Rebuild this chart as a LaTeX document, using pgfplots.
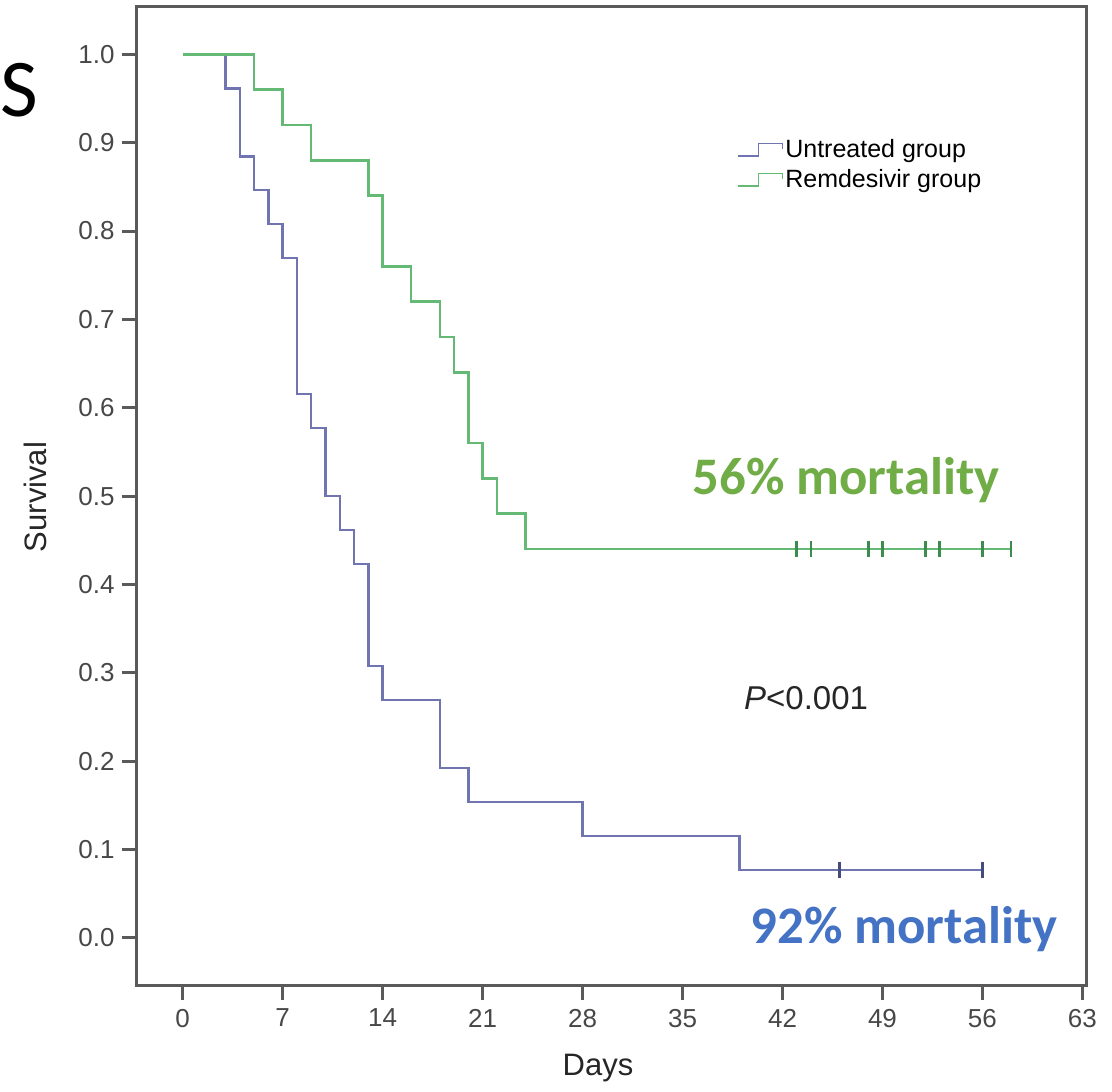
\documentclass[border=0pt]{standalone}
\usepackage{fontspec}
\setmainfont{Liberation Sans}
\newfontfamily\calibri{Carlito}
\usepackage{pgfplots}
\pgfplotsset{compat=1.18}
\definecolor{untr}{RGB}{112,117,178}
\definecolor{remd}{RGB}{100,186,116}
\definecolor{remdmark}{RGB}{60,140,80}
\definecolor{untrmark}{RGB}{70,75,125}
\definecolor{framec}{RGB}{90,90,90}
\definecolor{lblue}{RGB}{68,114,196}
\definecolor{lgreen}{RGB}{112,173,71}
\begin{document}
\begin{tikzpicture}
\path[use as bounding box] (0pt,0pt) rectangle (556pt,-545.5pt);
\node[anchor=base west, inner sep=0pt, font=\normalfont\calibri\upshape\fontsize{41}{48}\selectfont] at (0pt,-58.5pt) {S};
\begin{axis}[
  at={(68.35pt,-492.5pt)}, anchor=south west,
  scale only axis, width=475pt, height=489pt,
  xmin=-3.22, xmax=63.3, ymin=-0.0535, ymax=1.0536,
  xtick={0,7,...,63}, ytick={0,0.1,0.2,0.3,0.4,0.5,0.6,0.7,0.8,0.9,1.0},
  yticklabel style={/pgf/number format/.cd, fixed, fixed zerofill, precision=1},
  /pgf/number format/assume math mode=true,
  xtick pos=lower, ytick pos=left,
  tick align=outside, major tick length=7.5pt,
  axis line style={framec, line width=1.5pt},
  tick style={framec, line width=1.5pt},
  ticklabel style={font=\fontsize{13}{15}\selectfont, text=black!72},
  xticklabel style={yshift=-1pt},
  xlabel={Days}, ylabel={Survival},
  label style={font=\fontsize{15.5}{18}\selectfont, text=black!85},
  xlabel style={at={(axis description cs:0.4856,-0.0849)}, anchor=center},
  ylabel style={at={(axis description cs:-0.107,0.499)}, anchor=center, rotate=0},
  legend style={at={(rel axis cs:0.632,0.867)}, anchor=north west, draw=none, fill=none,
    font=\fontsize{12.5}{14}\selectfont, row sep=2.5pt, inner sep=0pt,
    nodes={inner sep=1pt}, cells={anchor=west}},
  legend image code/.code={\draw[#1, line width=0.9pt] (0pt,-3pt) -- (10pt,-3pt) -- (10pt,3.3pt) -- (22pt,3.3pt) -- (22pt,0.6pt);},
  clip=false,
]
\addplot[untr, line width=1.25pt, const plot] coordinates {(0,1) (3,0.9615) (4,0.8846) (5,0.8462) (6,0.8077) (7,0.7692) (8,0.6154) (9,0.5769) (10,0.5) (11,0.4615) (12,0.4231) (13,0.3077) (14,0.2692) (18,0.1923) (20,0.1538) (28,0.1154) (39,0.0769) (56,0.0769)};
\addlegendentry{Untreated group}
\addplot[remd, line width=1.25pt, const plot] coordinates {(0,1) (5,0.96) (7,0.92) (9,0.88) (13,0.84) (14,0.76) (16,0.72) (18,0.68) (19,0.64) (20,0.56) (21,0.52) (22,0.48) (24,0.44) (58,0.44)};
\addlegendentry{Remdesivir group}
\addplot[forget plot, only marks, mark=|, mark size=4pt, untrmark, mark options={line width=1.3pt}] coordinates {(46,0.0769) (56,0.0769)};
\addplot[forget plot, only marks, mark=|, mark size=4pt, remdmark, mark options={line width=1.3pt}] coordinates {(43,0.44) (44,0.44) (48,0.44) (49,0.44) (52,0.44) (53,0.44) (56,0.44) (58,0.44)};
\node[font=\fontsize{16.5}{18}\selectfont, text=black!85] at (axis cs:43.65,0.2713) {\textit{P}<0.001};
\node[anchor=base west, inner sep=0pt, font=\calibri\bfseries\fontsize{26.4}{30}\selectfont, text=lgreen] at (axis cs:35.67,0.5023) {56\% mortality};
\node[anchor=base west, inner sep=0pt, font=\calibri\bfseries\fontsize{26.4}{30}\selectfont, text=lblue] at (axis cs:39.73,-0.006) {92\% mortality};
\end{axis}
\end{tikzpicture}
\end{document}
